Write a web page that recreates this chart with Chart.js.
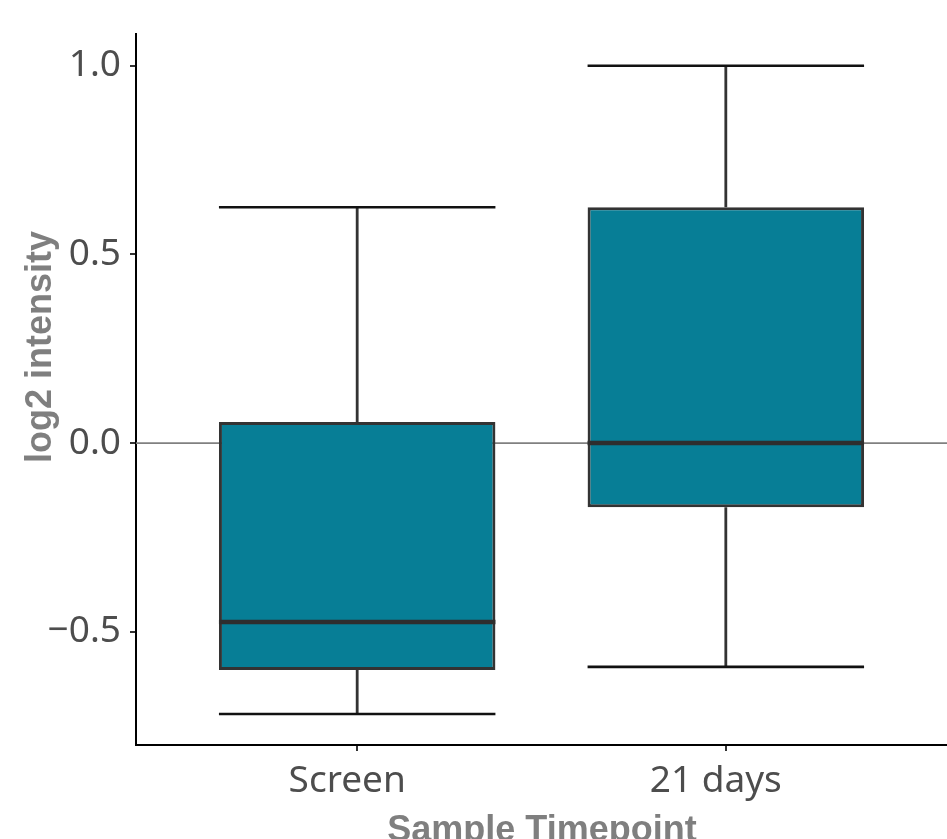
<!DOCTYPE html>
<html>
<head>
<meta charset="utf-8">
<title>log2 intensity by sample timepoint</title>
<script src="https://cdn.jsdelivr.net/npm/chart.js@4/dist/chart.umd.min.js"></script>
<style>
    html, body { margin: 0; padding: 0; background: #fff; }
    #wrap { width: 947px; height: 839px; position: relative; }
</style>
</head>
<body>
<div id="wrap"><canvas id="box-chart"></canvas></div>
<script>
// --- data ---
const categories = ['Screen', '21 days'];
const categoryPos = [1, 2];
const whiskerLow = [-0.718, -0.593];
const q1 = [-0.601, -0.170];
const median = [-0.474, 0.0];
const q3 = [0.056, 0.625];
const whiskerHigh = [0.625, 1.0];
const yTicks = [-0.5, 0.0, 0.5, 1.0];

const X_MIN = 0.4, X_MAX = 2.6;
const Y_MIN = -0.8, Y_MAX = 1.084;
const HALF = 0.375; // half box width in category units

const BOX_FILL = '#077E96';
const TICK_FONT = { family: '"Noto Sans", sans-serif', size: 37 };
const TITLE_FONT = 'bold 36px "Liberation Sans", Arial, sans-serif';

// horizontal segments (caps, medians) as line points broken by gaps
const hSegments = (vals) => categoryPos.flatMap((x, i) => [
    { x: x - HALF, y: vals[i] }, { x: x + HALF, y: vals[i] }, { x: x, y: null }
]);

const whiskerData = categoryPos.flatMap((x, i) => [
    { x, y: q3[i] }, { x, y: whiskerHigh[i] }, { x, y: null },
    { x, y: q1[i] }, { x, y: whiskerLow[i] }, { x, y: null }
]);

const lineBase = { type: 'line', pointRadius: 0, spanGaps: false, fill: false, borderCapStyle: 'butt' };

// axis titles drawn at the reference positions
const axisTitles = {
    id: 'axisTitles',
    afterDraw(chart) {
        const ctx = chart.ctx;
        ctx.save();
        ctx.fillStyle = '#7f7f7f';
        ctx.font = TITLE_FONT;
        ctx.textAlign = 'center';
        ctx.textBaseline = 'alphabetic';
        ctx.fillText('Sample Timepoint', 542, 841);
        ctx.translate(51, 347);
        ctx.rotate(-Math.PI / 2);
        ctx.fillText('log2 intensity', 0, 0);
        ctx.restore();
    }
};

new Chart(document.getElementById('box-chart'), {
    type: 'bar',
    data: {
        datasets: [
            {
                label: 'zero',
                ...lineBase,
                data: [{ x: X_MIN, y: 0 }, { x: X_MAX, y: 0 }],
                borderColor: '#808080',
                borderWidth: 1.6,
                order: 4
            },
            {
                label: 'box',
                data: categoryPos.map((x, i) => ({ x, y: [q1[i], q3[i]] })),
                backgroundColor: BOX_FILL,
                borderColor: '#333333',
                borderWidth: 3,
                borderSkipped: false,
                barPercentage: 0.75,
                categoryPercentage: 1,
                order: 3
            },
            {
                label: 'whiskers',
                ...lineBase,
                data: whiskerData,
                borderColor: '#333333',
                borderWidth: 2.8,
                order: 2
            },
            {
                label: 'caps',
                ...lineBase,
                data: [...hSegments(whiskerHigh), ...hSegments(whiskerLow)],
                borderColor: '#111111',
                borderWidth: 2.6,
                order: 1
            },
            {
                label: 'median',
                ...lineBase,
                data: hSegments(median),
                borderColor: '#2e2e2e',
                borderWidth: 4.5,
                order: 0
            }
        ]
    },
    options: {
        responsive: true,
        maintainAspectRatio: false,
        animation: false,
        layout: { padding: { top: 34, right: 0, left: 0, bottom: 0 } },
        plugins: {
            legend: { display: false },
            tooltip: { enabled: false }
        },
        scales: {
            x: {
                type: 'linear',
                min: X_MIN,
                max: X_MAX,
                offset: false,
                afterBuildTicks: (scale) => { scale.ticks = categoryPos.map(v => ({ value: v })); },
                afterFit: (scale) => { scale.height = 94; },
                border: { color: '#000', width: 2 },
                grid: { drawOnChartArea: false, offset: false, tickLength: 6, color: '#333', lineWidth: 2 },
                ticks: {
                    callback: (v) => categories[categoryPos.indexOf(v)] ?? '',
                    color: '#4d4d4d',
                    font: TICK_FONT,
                    padding: 8,
                    labelOffset: -10,
                    maxRotation: 0
                }
            },
            y: {
                min: Y_MIN,
                max: Y_MAX,
                afterBuildTicks: (scale) => { scale.ticks = yTicks.map(v => ({ value: v })); },
                afterFit: (scale) => { scale.width = 136; },
                border: { color: '#000', width: 2 },
                grid: { drawOnChartArea: false, tickLength: 6, color: '#333', lineWidth: 2 },
                ticks: {
                    callback: (v) => (v < 0 ? '\u2212' : '') + Math.abs(v).toFixed(1),
                    color: '#4d4d4d',
                    font: TICK_FONT,
                    padding: 9
                }
            }
        }
    },
    plugins: [axisTitles]
});
</script>
</body>
</html>
